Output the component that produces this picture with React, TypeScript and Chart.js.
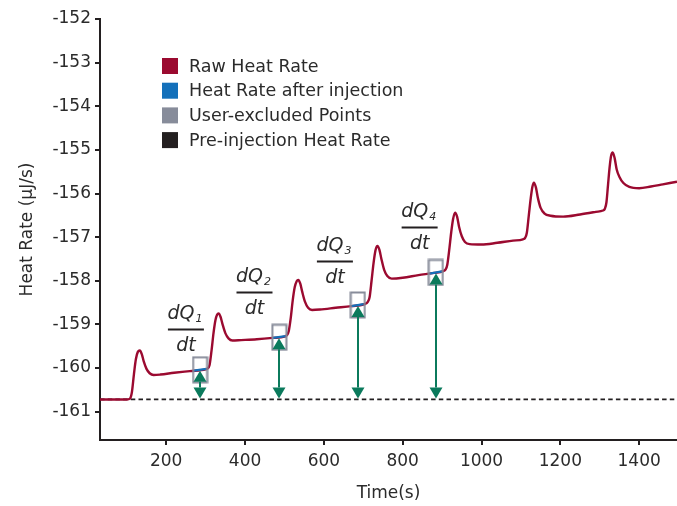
import React, { useEffect, useRef } from "react";
import { Chart, registerables } from "chart.js";

Chart.register(...registerables);

// ---- data ----
const rawTime = [
  32, 100, 108, 113, 118, 123, 128, 133, 138, 143, 150, 158, 168, 185, 220, 260, 300, 305,
  310, 315, 320, 325, 329, 333, 338, 343, 350, 358, 368, 390, 430, 470, 500, 506,
  511, 516, 521, 526, 531, 535, 540, 545, 552, 560, 570, 590, 630, 670, 705, 711,
  716, 721, 726, 731, 736, 741, 746, 753, 761, 772, 800, 840, 880, 903, 909,
  913, 918, 923, 928, 933, 938, 943, 950, 958, 970, 1000, 1040, 1080, 1105, 1111,
  1115, 1120, 1125, 1129, 1133, 1138, 1143, 1150, 1160, 1175, 1207, 1250, 1290, 1308, 1313,
  1317, 1321, 1325, 1329, 1333, 1338, 1343, 1350, 1360, 1375, 1400, 1430, 1460, 1496,
];
const rawHeat = [
  -160.72, -160.72, -160.7, -160.55, -160.15, -159.8, -159.63, -159.6, -159.68, -159.85, -160.02, -160.12, -160.16, -160.15, -160.11, -160.07, -160.03, -160.01,
  -159.93, -159.6, -159.2, -158.9, -158.78, -158.75, -158.83, -159.0, -159.2, -159.32, -159.37, -159.36, -159.34, -159.31, -159.28, -159.25,
  -159.15, -158.85, -158.45, -158.15, -158.01, -157.98, -158.06, -158.25, -158.48, -158.62, -158.67, -158.66, -158.62, -158.58, -158.53, -158.49,
  -158.38, -158.0, -157.6, -157.3, -157.2, -157.29, -157.5, -157.75, -157.89, -157.95, -157.93, -157.87, -157.82, -157.78, -157.74,
  -157.64, -157.3, -156.9, -156.58, -156.44, -156.53, -156.76, -156.98, -157.11, -157.16, -157.17, -157.13, -157.08, -157.05, -157.01,
  -156.9, -156.5, -156.1, -155.85, -155.75, -155.86, -156.1, -156.33, -156.46, -156.51, -156.53, -156.48, -156.42, -156.39, -156.35,
  -156.2, -155.8, -155.4, -155.13, -155.06, -155.2, -155.45, -155.62, -155.76, -155.85, -155.88, -155.84, -155.79, -155.73,
];

// Heat rate after injection: short segments (pairs, null separates)
const afterTime = [270, 302, null, 471, 503, null, 670, 701, null, 868, 900];
const afterHeat = [-160.06, -160.02, null, -159.31, -159.27, null, -158.58, -158.536, null, -157.835, -157.785];

// User-excluded points
const excludedTime = [286, 487, 686, 884];
const excludedHeat = [-160.04, -159.295, -158.555, -157.81];

// Pre-injection heat rate
const preInjection = -160.72;
const preTime = [32, 1496];

// dQ/dt annotations
const dqIndex = ["1", "2", "3", "4"];
const dqTime = [250, 424, 628, 843];
const dqBarHeat = [-159.105, -158.264, -157.54, -156.774];

const legendLabels = ["Raw Heat Rate", "Heat Rate after injection", "User-excluded Points", "Pre-injection Heat Rate"];

const xTicks = [200, 400, 600, 800, 1000, 1200, 1400];
const yTicks = [-161, -160, -159, -158, -157, -156, -155, -154, -153, -152];
const xMin = 32;
const xMax = 1496;
const yMin = -161.65;
const yMax = -152;

// ---- styles ----
const RED = "#9B0A30";
const BLUE = "#1470BA";
const GRAY = "#878C9A";
const BLACK = "#231F20";
const GREEN = "#0B7A5C";
const TEXT = "#2B2B2B";
const FONT = "'DejaVu Sans'";
const legendColors = [RED, BLUE, GRAY, BLACK];

export default function App() {
  const ref = useRef<HTMLCanvasElement>(null);

  useEffect(() => {
    const canvas = ref.current!;
    const box = document.createElement("canvas");
    box.width = 17;
    box.height = 28;
    const bctx = box.getContext("2d")!;
    bctx.strokeStyle = GRAY;
    bctx.lineWidth = 2;
    bctx.strokeRect(1.5, 1.5, 14, 25);

    const arrowsPlugin = {
      id: "arrows",
      afterDatasetsDraw(chart: any) {
        const { ctx, scales } = chart;
        const x = scales.x;
        const y = scales.y;
        ctx.save();
        ctx.strokeStyle = GREEN;
        ctx.fillStyle = GREEN;
        ctx.lineWidth = 2;
        excludedTime.forEach((t, i) => {
          const px = Math.round(x.getPixelForValue(t));
          const top = y.getPixelForValue(excludedHeat[i]) + 1;
          const bot = y.getPixelForValue(preInjection) - 1;
          const hw = 6.5;
          const hh = 11;
          ctx.beginPath();
          ctx.moveTo(px, top + hh);
          ctx.lineTo(px, bot - hh);
          ctx.stroke();
          ctx.beginPath();
          ctx.moveTo(px, top);
          ctx.lineTo(px - hw, top + hh);
          ctx.lineTo(px + hw, top + hh);
          ctx.closePath();
          ctx.fill();
          ctx.beginPath();
          ctx.moveTo(px, bot);
          ctx.lineTo(px - hw, bot - hh);
          ctx.lineTo(px + hw, bot - hh);
          ctx.closePath();
          ctx.fill();
        });
        // dQ/dt labels
        ctx.fillStyle = TEXT;
        ctx.strokeStyle = BLACK;
        dqTime.forEach((t, i) => {
          const cx = x.getPixelForValue(t);
          const by = Math.round(y.getPixelForValue(dqBarHeat[i])) + 0.5;
          ctx.lineWidth = 2;
          ctx.beginPath();
          ctx.moveTo(cx - 18, by);
          ctx.lineTo(cx + 18, by);
          ctx.stroke();
          ctx.font = `italic 19px ${FONT}`;
          ctx.textBaseline = "alphabetic";
          ctx.textAlign = "left";
          const w1 = ctx.measureText("dQ").width;
          ctx.font = `italic 11px ${FONT}`;
          const w2 = ctx.measureText(dqIndex[i]).width;
          const left = cx - (w1 + w2 + 1) / 2 - 1;
          ctx.font = `italic 19px ${FONT}`;
          ctx.fillText("dQ", left, by - 11);
          ctx.font = `italic 11px ${FONT}`;
          ctx.fillText(dqIndex[i], left + w1 + 1, by - 8);
          ctx.font = `italic 19px ${FONT}`;
          ctx.textAlign = "center";
          ctx.fillText("dt", cx, by + 21);
        });
        ctx.restore();
      },
    };

    const legendPlugin = {
      id: "customLegend",
      afterDraw(chart: any) {
        const { ctx } = chart;
        ctx.save();
        ctx.font = `17.5px ${FONT}`;
        ctx.textBaseline = "middle";
        ctx.textAlign = "left";
        legendLabels.forEach((label, i) => {
          const cy = 66 + i * 24.7;
          ctx.fillStyle = legendColors[i];
          ctx.fillRect(162, cy - 8, 16, 16);
          ctx.fillStyle = TEXT;
          ctx.fillText(label, 189, cy + 1);
        });
        ctx.restore();
      },
    };

    const tickFont = { family: FONT, size: 17 };

    const chart = new Chart(canvas, {
      type: "line",
      data: {
        datasets: [
          {
            label: "User-excluded Points",
            data: excludedTime.map((t, i) => ({ x: t, y: excludedHeat[i] })),
            showLine: false,
            pointStyle: box as any,
            pointRadius: 8,
            borderColor: GRAY,
            backgroundColor: GRAY,
          },
          {
            label: "Heat Rate after injection",
            data: afterTime.map((t, i) => ({ x: t as any, y: afterHeat[i] as any })),
            borderColor: BLUE,
            borderWidth: 2.2,
            pointRadius: 0,
            spanGaps: false,
          },
          {
            label: "Raw Heat Rate",
            data: rawTime.map((t, i) => ({ x: t, y: rawHeat[i] })),
            borderColor: RED,
            borderWidth: 2.4,
            pointRadius: 0,
            cubicInterpolationMode: "monotone",
          },
          {
            label: "Pre-injection Heat Rate",
            data: preTime.map((t) => ({ x: t, y: preInjection })),
            borderColor: BLACK,
            borderWidth: 1.8,
            borderDash: [4.5, 3.2],
            pointRadius: 0,
          },
        ],
      },
      options: {
        responsive: false,
        animation: false,
        devicePixelRatio: 1,
        layout: { autoPadding: false, padding: { top: 19, right: 0, bottom: 0, left: 0 } },
        plugins: {
          legend: { display: false },
          tooltip: { enabled: false },
        },
        scales: {
          x: {
            type: "linear",
            min: xMin,
            max: xMax,
            afterBuildTicks: (s: any) => {
              s.ticks = xTicks.map((v) => ({ value: v }));
            },
            afterFit: (s: any) => {
              s.height = 66;
              s.paddingLeft = 0;
              s.paddingRight = 0;
            },
            grid: { drawOnChartArea: false, drawTicks: true, tickLength: 5, color: BLACK, lineWidth: 2 },
            border: { display: true, color: BLACK, width: 2 },
            ticks: {
              font: tickFont,
              color: TEXT,
              padding: 6,
              maxRotation: 0,
              autoSkip: false,
              callback: (v: any) => String(v),
            },
            title: {
              display: true,
              text: "Time(s)",
              font: tickFont,
              color: TEXT,
              padding: { top: 0, bottom: 2 },
            },
          },
          y: {
            type: "linear",
            min: yMin,
            max: yMax,
            afterBuildTicks: (s: any) => {
              s.ticks = yTicks.map((v) => ({ value: v }));
            },
            afterFit: (s: any) => {
              s.width = 100;
              s.paddingTop = 0;
              s.paddingBottom = 0;
            },
            grid: { drawOnChartArea: false, drawTicks: true, tickLength: 5, color: BLACK, lineWidth: 2 },
            border: { display: true, color: BLACK, width: 2 },
            ticks: {
              font: tickFont,
              color: TEXT,
              padding: 4,
              autoSkip: false,
              callback: (v: any) => String(v),
            },
            title: {
              display: true,
              text: "Heat Rate (µJ/s)",
              font: tickFont,
              color: TEXT,
              padding: { top: 17, bottom: 0 },
            },
          },
        },
      } as any,
      plugins: [arrowsPlugin, legendPlugin],
    } as any);

    return () => chart.destroy();
  }, []);

  return (
    <div style={{ position: "absolute", left: 0, top: 0, width: 677, height: 506 }}>
      <canvas ref={ref} width={677} height={506} style={{ display: "block", width: 677, height: 506 }} />
    </div>
  );
}
